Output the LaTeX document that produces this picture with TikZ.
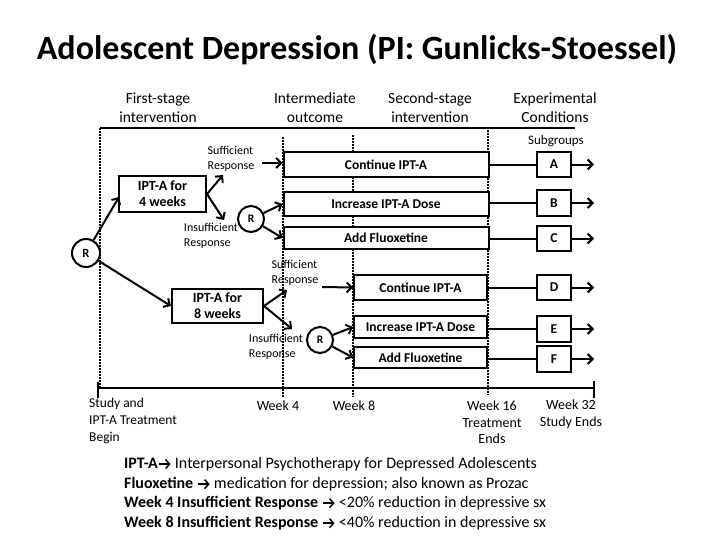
\documentclass[tikz,border=0pt]{standalone}
\usepackage{fontspec}
\setmainfont{Carlito}
\usetikzlibrary{arrows.meta}
\newcommand\legarr{\tikz[x=1pt,y=1pt,baseline=0pt]\draw[line width=1.5pt,line cap=butt,-{Straight Barb[length=4pt,width=9pt,line width=1.5pt]}] (0,4.2) -- (12,4.2);}
\begin{document}
\begin{tikzpicture}[x=1pt,y=-1pt,
  box/.style={draw,line width=2pt,inner sep=0pt,font=\fontsize{13.5}{15}\selectfont\bfseries},
  rnode/.style={draw,circle,line width=2pt,inner sep=0pt,font=\fontsize{12.5}{14}\selectfont\bfseries},
  arr/.style={line width=2pt,-{Straight Barb[length=5pt,width=10pt,line width=2pt]}},
  conn/.style={line width=2pt},
  dotl/.style={line width=2pt,dash pattern=on 1.5pt off 1.5pt},
  hdr/.style={align=center,font=\fontsize{15.5}{19}\selectfont},
  small/.style={align=left,font=\fontsize{12}{14.5}\selectfont,inner sep=0pt},
  wk/.style={align=center,font=\fontsize{14}{16.5}\selectfont,inner sep=0pt},
  leg/.style={anchor=west,inner sep=0pt,font=\fontsize{16}{18}\selectfont}]
\useasboundingbox (0,0) rectangle (720,557);
% title
\node[font=\fontsize{34}{38}\selectfont\bfseries] (title) at (357,50) {Adolescent Depression (PI: Gunlicks-Stoessel)};
% headers
\node[hdr] (h1) at (158,108) {First-stage\\intervention};
\node[hdr] (h2) at (315,108) {Intermediate\\outcome};
\node[hdr] (h3) at (430,108) {Second-stage\\intervention};
\node[hdr] (h4) at (555,108) {Experimental\\Conditions};
\node[font=\fontsize{13}{15}\selectfont] (sg) at (556,141) {Subgroups};
\draw[line width=2pt] (100,128) -- (575,128);
% dotted vertical lines
\draw[dotl] (100,128) -- (100,389);
\draw[dotl] (283,137) -- (283,397);
\draw[dotl] (353,135) -- (353,397);
\draw[dotl] (488,130) -- (488,395);
% timeline
\draw[line width=2pt] (98,388) -- (594,388);
\draw[line width=2pt] (98,382) -- (98,398);
\draw[line width=2pt] (594,381) -- (594,398);
% boxes top
\node[box,minimum width=205pt,minimum height=25pt,fill=white] (cont1) at (386,164.5) {Continue IPT-A};
\node[box,minimum width=205pt,minimum height=24pt,fill=white] (inc1) at (386,204) {Increase IPT-A Dose};
\node[box,minimum width=205pt,minimum height=22pt,fill=white] (add1) at (386,238) {Add Fluoxetine};
\node[box,minimum width=34pt,minimum height=25pt] (A) at (554,164.5) {A};
\node[box,minimum width=34pt,minimum height=26pt] (B) at (554,203) {B};
\node[box,minimum width=34pt,minimum height=25pt] (C) at (554,238.5) {C};
% boxes bottom
\node[box,minimum width=133pt,minimum height=25pt,fill=white] (cont2) at (420.5,287.5) {Continue IPT-A};
\node[box,minimum width=133pt,minimum height=22pt,fill=white] (inc2) at (420.5,327) {Increase IPT-A Dose};
\node[box,minimum width=133pt,minimum height=21pt,fill=white] (add2) at (420.5,357.5) {Add Fluoxetine};
\node[box,minimum width=34pt,minimum height=25pt] (D) at (554,287.5) {D};
\node[box,minimum width=34pt,minimum height=26pt] (E) at (554,329) {E};
\node[box,minimum width=34pt,minimum height=26pt] (F) at (554,359) {F};
% first stage
\node[box,minimum width=87pt,minimum height=36pt,align=center,font=\fontsize{14}{16}\selectfont\bfseries,fill=white] (ipt4) at (162.5,194) {IPT-A for\\4 weeks};
\node[box,minimum width=91pt,minimum height=34pt,align=center,font=\fontsize{14}{16}\selectfont\bfseries,fill=white] (ipt8) at (217.5,306) {IPT-A for\\8 weeks};
\node[rnode,minimum size=28pt,fill=white] (R1) at (86,253) {R};
\node[rnode,minimum size=26pt,font=\fontsize{11.5}{13}\selectfont\bfseries,fill=white] (R2) at (251,219) {R};
\node[rnode,minimum size=26pt,font=\fontsize{11.5}{13}\selectfont\bfseries,fill=white] (R3) at (320,340) {R};
% labels
\node[small] (suf1) at (231,159) {Sufficient\\Response};
\node[small] (ins1) at (211,236) {Insufficient\\Response};
\node[small] (suf2) at (295,273) {Sufficient\\Response};
\node[small] (ins2) at (276,347) {Insufficient\\Response};
% coordinates
\coordinate (a1) at (119,197);
\coordinate (u4) at (223,175);
\coordinate (d4) at (224,220);
\coordinate (u8) at (287,290);
\coordinate (d8) at (292,329);
\coordinate (s1) at (262,163);
\coordinate (s2) at (322,287);
\coordinate (eA) at (594,164.5);
\coordinate (eB) at (594,203);
\coordinate (eC) at (594,238.5);
\coordinate (eD) at (594,287.5);
\coordinate (eE) at (594,329);
\coordinate (eF) at (594,359);
% connectors
\draw[arr] (R1) -- (a1);
\draw[arr] (R1) -- (ipt8.west);
\draw[arr] (ipt4.east) -- (u4);
\draw[arr] (ipt4.east) -- (d4);
\draw[arr] (ipt8.east) -- (u8);
\draw[arr] (ipt8.east) -- (d8);
\draw[arr] (s1) -- (cont1.west |- s1);
\draw[arr] (s2) -- (cont2.west);
\draw[arr] (R2) -- (inc1.west);
\draw[arr] (R2) -- (add1.west);
\draw[arr] (R3) -- (inc2.west);
\draw[arr] (R3) -- (add2.west);
\draw[conn] (cont1.east) -- (A.west);
\draw[conn] (inc1.east |- B.west) -- (B.west);
\draw[conn] (add1.east |- C.west) -- (C.west);
\draw[conn] (cont2.east) -- (D.west);
\draw[conn] (inc2.east |- E.west) -- (E.west);
\draw[conn] (add2.east |- F.west) -- (F.west);
\draw[arr] (A) -- (eA);
\draw[arr] (B) -- (eB);
\draw[arr] (C) -- (eC);
\draw[arr] (D) -- (eD);
\draw[arr] (E) -- (eE);
\draw[arr] (F) -- (eF);
% timeline labels
\node[small,font=\fontsize{13.5}{17}\selectfont,anchor=north west] (st) at (89,398) {Study and\\IPT-A Treatment\\Begin};
\node[wk,anchor=north] (w4) at (278,401) {Week 4};
\node[wk,anchor=north] (w8) at (354,401) {Week 8};
\node[wk,anchor=north] (w16) at (492,401) {Week 16\\Treatment\\Ends};
\node[wk,anchor=north] (w32) at (571,400) {Week 32\\Study Ends};
% legend
\node[leg] (l1) at (124,464) {\textbf{IPT-A}\legarr{} Interpersonal Psychotherapy for Depressed Adolescents};
\node[leg] (l2) at (124,484) {\textbf{Fluoxetine} \legarr{} medication for depression; also known as Prozac};
\node[leg] (l3) at (124,503) {\textbf{Week 4 Insufficient Response} \legarr{} <20\% reduction in depressive sx};
\node[leg] (l4) at (124,523) {\textbf{Week 8 Insufficient Response} \legarr{} <40\% reduction in depressive sx};
\end{tikzpicture}
\end{document}
